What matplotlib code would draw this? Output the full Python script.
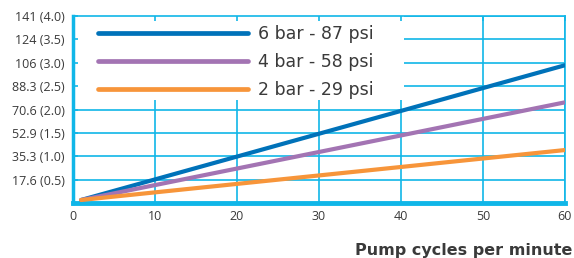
import matplotlib
matplotlib.use("Agg")
import matplotlib.pyplot as plt
from matplotlib.patches import Rectangle

# Data
x_cycles = [1, 60]
flow_6bar = [2.3, 104]
flow_4bar = [2.3, 76]
flow_2bar = [2.3, 40]
series_labels = ["6 bar - 87 psi", "4 bar - 58 psi", "2 bar - 29 psi"]
series_colors = ["#0072b9", "#a374b3", "#f7953a"]

y_tick_values = [17.65, 35.3, 52.95, 70.6, 88.25, 105.9, 123.55, 141.2]
y_tick_labels = ["17.6 (0.5)", "35.3 (1.0)", "52.9 (1.5)", "70.6 (2.0)",
                 "88.3 (2.5)", "106 (3.0)", "124 (3.5)", "141 (4.0)"]
x_tick_values = [0, 10, 20, 30, 40, 50, 60]
x_tick_labels = ["0", "10", "20", "30", "40", "50", "60"]
xlabel = "Pump cycles per minute"

cyan = "#10b6e8"
text_col = "#3a3a3a"

fig = plt.figure(figsize=(5.74, 2.58), dpi=100)
ax = fig.add_axes([0.127, 0.213, 0.857, 0.725])
ax.set_xlim(0, 60)
ax.set_ylim(0, 141.2)

# grid
for xv in x_tick_values[1:]:
    ax.axvline(xv, color=cyan, lw=1.2, zorder=1)
for yv in y_tick_values:
    ax.axhline(yv, color=cyan, lw=1.2, zorder=1)

# legend background
ax.add_patch(Rectangle((0, 77.5), 40.4, 70, facecolor="white", edgecolor="none", zorder=1.5))

for ys, lab, col in zip([flow_6bar, flow_4bar, flow_2bar], series_labels, series_colors):
    ax.plot(x_cycles, ys, color=col, lw=3.0, solid_capstyle="round", label=lab, zorder=3)

ax.set_xticks(x_tick_values)
ax.set_xticklabels(x_tick_labels)
ax.set_yticks(y_tick_values)
ax.set_yticklabels(y_tick_labels)
ax.tick_params(axis="both", colors=cyan, labelcolor=text_col, labelsize=9,
               direction="in", length=3.5, width=1.2)
ax.tick_params(axis="x", top=True, bottom=False, pad=5)
ax.tick_params(axis="y", pad=6)
for t in ax.get_xticklabels() + ax.get_yticklabels():
    t.set_fontfamily("Open Sans")

for side in ["top", "right"]:
    ax.spines[side].set_color(cyan)
    ax.spines[side].set_linewidth(1.2)
ax.spines["left"].set_color(cyan)
ax.spines["left"].set_linewidth(2.5)
ax.spines["bottom"].set_color(cyan)
ax.spines["bottom"].set_linewidth(3.5)

leg = ax.legend(loc="upper left", bbox_to_anchor=(0.02, 1.035), frameon=False,
                handlelength=8.6, handletextpad=0.6, labelspacing=0.58,
                prop={"family": "DejaVu Sans", "size": 12.5})
for txt in leg.get_texts():
    txt.set_color(text_col)
for h in leg.get_lines():
    h.set_linewidth(3.4)
    h.set_solid_capstyle("round")
leg.set_zorder(4)

fig.text(0.998, 0.0, xlabel, ha="right", va="bottom", fontsize=11.5,
         fontweight="bold", color=text_col, family="DejaVu Sans")

fig.savefig("out.png", dpi=100)
